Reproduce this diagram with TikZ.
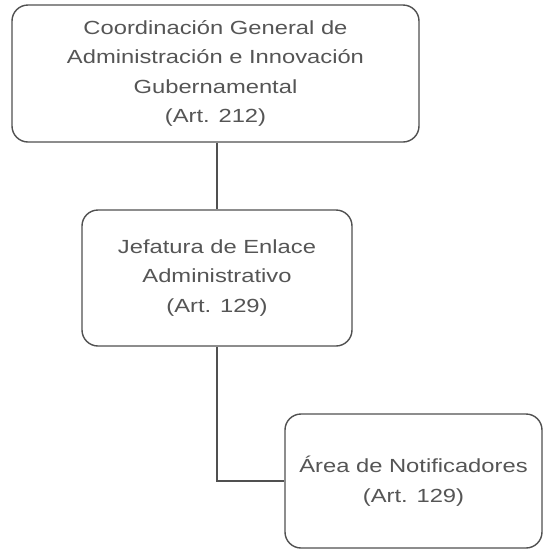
\documentclass[tikz,border=0pt]{standalone}
\usepackage{fontspec}
\setmainfont{Liberation Sans}[FakeStretch=1.25]
\definecolor{boxline}{HTML}{505050}
\definecolor{txt}{HTML}{555555}
\begin{document}
\begin{tikzpicture}[x=1pt,y=-1pt,
  orgbox/.style={draw=boxline, line width=1.4pt, rounded corners=16pt, fill=white,
    align=center, text=txt, inner sep=0pt,
    font=\fontsize{19}{29.5}\selectfont},
  conn/.style={draw=boxline, line width=1.4pt}]
\useasboundingbox (0,0) rectangle (542,550);
\node[orgbox, minimum width=407pt, minimum height=137pt] (n1) at (215.5,73.5)
  {Coordinación General de\\Administración e Innovación\\Gubernamental\\(Art. 212)};
\node[orgbox, minimum width=270pt, minimum height=136pt] (n2) at (217,278)
  {Jefatura de Enlace\\Administrativo\\(Art. 129)};
\node[orgbox, minimum width=257pt, minimum height=134pt] (n3) at (413.5,481)
  {Área de Notificadores\\(Art. 129)};
\draw[conn] (n2.north |- n1.south) -- (n2.north);
\draw[conn] (n2.south) |- (n3.west);
\end{tikzpicture}
\end{document}
